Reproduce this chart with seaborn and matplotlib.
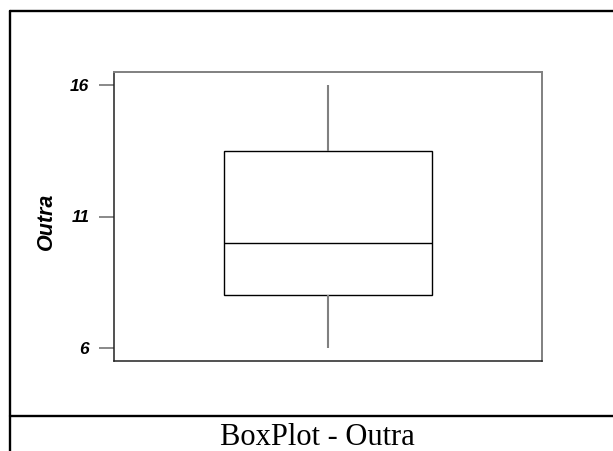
import matplotlib
matplotlib.use("Agg")
import matplotlib.pyplot as plt
from matplotlib.lines import Line2D
import seaborn as sns

# five-number summary (min, Q1, median, Q3, max)
outra = [6, 8, 10, 13.5, 16]
yticks = [6, 11, 16]
ylabel = "Outra"
caption = "BoxPlot - Outra"

sns.set_style("ticks")
plt.rcParams['font.family'] = ['Liberation Sans', 'DejaVu Sans']
plt.rcParams['text.color'] = 'black'
plt.rcParams['axes.labelcolor'] = 'black'

W, H = 613, 451
fig = plt.figure(figsize=(W / 100, H / 100), dpi=100)
ax = fig.add_axes([114 / W, 1 - 361 / H, 428 / W, 289 / H])

sns.boxplot(y=outra, ax=ax, width=0.486, color="white", linecolor="black",
            linewidth=1.0, showcaps=False, fliersize=0,
            whiskerprops=dict(color="#808080", linewidth=1.5),
            medianprops=dict(color="black", linewidth=1.0),
            boxprops=dict(edgecolor="black", facecolor="white"))

ax.set_xlim(-0.5, 0.5)
ax.set_ylim(5.5, 16.5)
ax.set_yticks(yticks)
ax.set_yticklabels([str(t) for t in yticks], fontsize=12.5,
                   fontweight="bold", fontstyle="italic")
ax.set_xticks([])
ax.tick_params(axis="y", length=10.8, width=1.3, color="#808080", pad=7,
               labelcolor="black")
ax.set_ylabel(ylabel, fontsize=15.5, fontweight="bold", fontstyle="italic",
              color="black")
ax.yaxis.set_label_coords(-0.133, 0.484)

for side in ["top", "right"]:
    ax.spines[side].set_color("#808080")
    ax.spines[side].set_linewidth(1.4)
for side in ["left", "bottom"]:
    ax.spines[side].set_color("#222222")
    ax.spines[side].set_linewidth(1.1)

# outer frame of the cell
lw = 1.7
fig.add_artist(Line2D([10 / W, 10 / W], [0, 1 - 11 / H], color="black", lw=lw))
fig.add_artist(Line2D([10 / W, 1], [1 - 11 / H, 1 - 11 / H], color="black", lw=lw))
fig.add_artist(Line2D([10 / W, 1], [1 - 416 / H, 1 - 416 / H], color="black", lw=lw))

fig.text(317 / W, 1 - 445 / H, caption, ha="center", va="baseline",
         fontsize=22, color="black", family=["Liberation Serif", "DejaVu Serif"])

fig.savefig("out.png", dpi=100, facecolor="white")
